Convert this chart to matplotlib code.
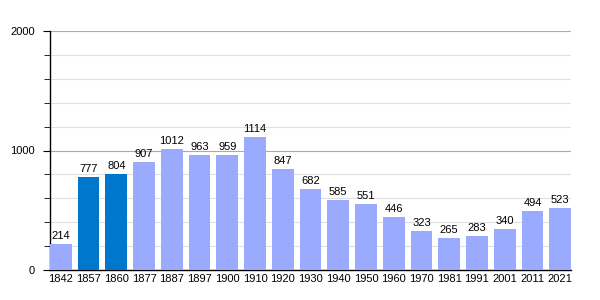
import matplotlib
matplotlib.use("Agg")
import matplotlib.pyplot as plt
from matplotlib.ticker import MultipleLocator

years = ["1842", "1857", "1860", "1877", "1887", "1897", "1900", "1910", "1920", "1930",
         "1940", "1950", "1960", "1970", "1981", "1991", "2001", "2011", "2021"]
population = [214, 777, 804, 907, 1012, 963, 959, 1114, 847, 682,
              585, 551, 446, 323, 265, 283, 340, 494, 523]
highlight = ["1857", "1860"]

plt.rcParams["font.family"] = ["Liberation Sans", "DejaVu Sans"]

fig = plt.figure(figsize=(6, 3), dpi=100)
ax = fig.add_axes([50 / 600, 30 / 300, 521 / 600, 239 / 300])

width = 0.78
colors = ["#0077cc" if y in highlight else "#99aaff" for y in years]
x = list(range(len(years)))
bars = ax.bar(x, population, width=width, align="edge", color=colors, zorder=3)
for xi, v in zip(x, population):
    ax.text(xi + width / 2, v + 25, str(v), ha="center", va="bottom", fontsize=8, zorder=4)

ax.set_xlim(0, len(years) - 1 + width)
ax.set_ylim(0, 2000)
ax.set_xticks([xi + width / 2 for xi in x])
ax.set_xticklabels(years, fontsize=8)
ax.tick_params(axis="x", length=0, pad=3)
ax.yaxis.set_major_locator(MultipleLocator(1000))
ax.yaxis.set_minor_locator(MultipleLocator(200))
ax.tick_params(axis="y", which="major", length=5, labelsize=8, pad=6)
ax.tick_params(axis="y", which="minor", length=4)
ax.grid(axis="y", which="major", color="#aaaaaa", linewidth=0.8, zorder=1)
ax.grid(axis="y", which="minor", color="#e0e0e0", linewidth=0.8, zorder=1)
for side in ("top", "right"):
    ax.spines[side].set_visible(False)
ax.spines["left"].set_linewidth(1)
ax.spines["bottom"].set_linewidth(1)

fig.savefig("out.png", dpi=100)
